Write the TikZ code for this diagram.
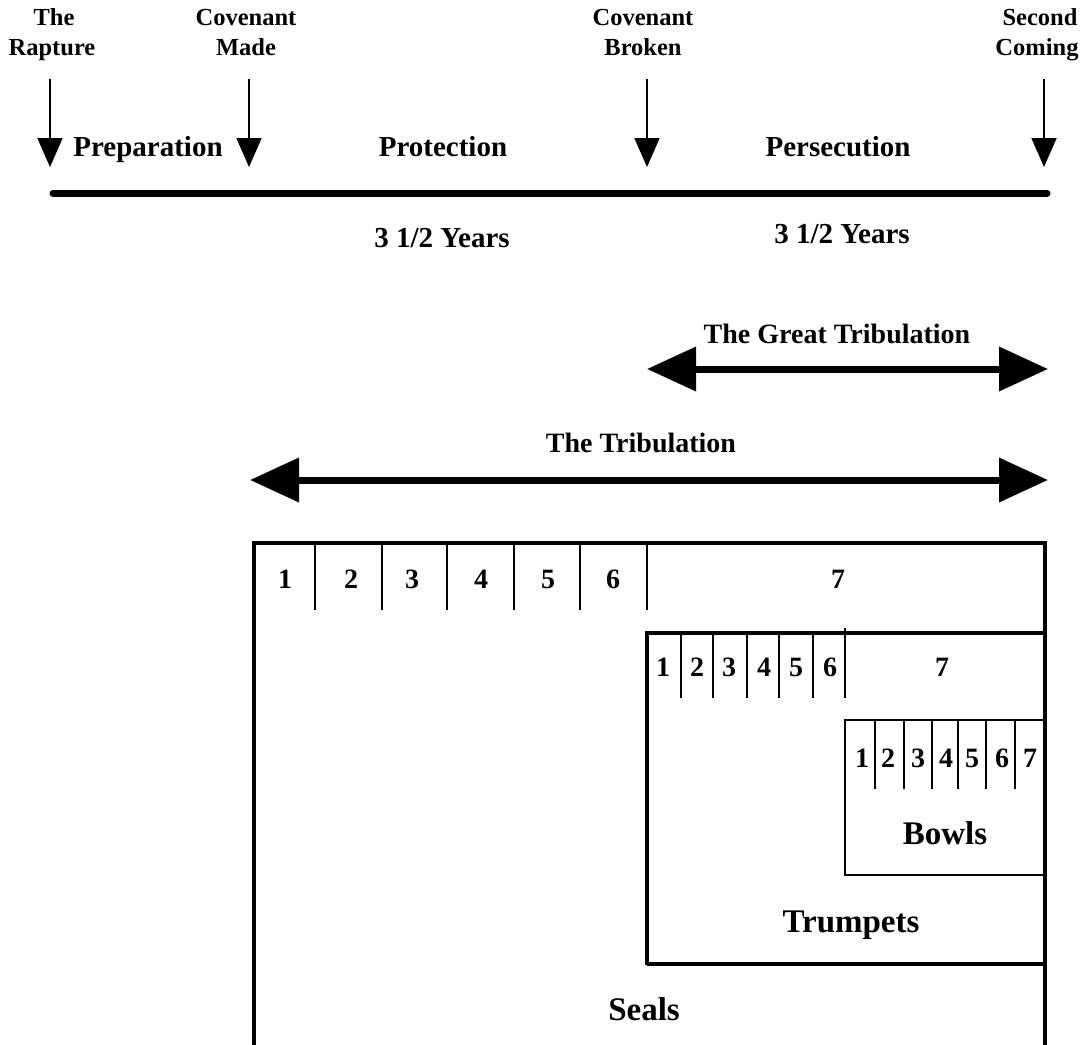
\documentclass[tikz,border=0pt]{standalone}
\usepackage{fontspec}
\setmainfont{Liberation Serif}
\usetikzlibrary{arrows.meta}
\begin{document}
\begin{tikzpicture}[x=1pt,y=-1pt,
  toplbl/.style={font=\fontsize{24.5}{30}\selectfont\bfseries, anchor=base, inner sep=0pt},
  phase/.style={font=\fontsize{29}{34}\selectfont\bfseries, anchor=base, inner sep=0pt},
  span/.style={font=\fontsize{28}{34}\selectfont\bfseries, anchor=base, inner sep=0pt},
  num/.style={font=\fontsize{28}{34}\selectfont\bfseries, anchor=base, inner sep=0pt},
  big/.style={font=\fontsize{33}{38}\selectfont\bfseries, anchor=base, inner sep=0pt},
  downarrow/.style={line width=1.8pt, -{Triangle[length=29pt,width=25pt]}},
  dblarrow/.style={line width=7pt, {Triangle[length=49pt,width=43pt]}-{Triangle[length=49pt,width=43pt]}},
  heavy/.style={line width=4.5pt, line join=miter},
  divider/.style={line width=2pt},
  thinbox/.style={line width=2.5pt, line join=miter}]
\useasboundingbox (0,0) rectangle (1086,1044);

% top labels
\node[toplbl] (rap1) at (54,25) {The};
\node[toplbl] (rap2) at (52,55) {Rapture};
\node[toplbl] (cm1) at (246,25) {Covenant};
\node[toplbl] (cm2) at (246,55) {Made};
\node[toplbl] (cb1) at (643,25) {Covenant};
\node[toplbl] (cb2) at (643,55) {Broken};
\node[toplbl] (sc1) at (1040,25) {Second};
\node[toplbl] (sc2) at (1037,55) {Coming};

% down arrows
\foreach \x/\n in {50/a,249/b,647/c,1044/d}{
  \coordinate (top\n) at (\x,79);
  \coordinate (tip\n) at (\x,167);
  \draw[downarrow] (top\n) -- (tip\n);
}

% phases
\node[phase] (prep) at (148,156) {Preparation};
\node[phase] (prot) at (443,156) {Protection};
\node[phase] (pers) at (838,156) {Persecution};

% timeline
\coordinate (tl1) at (53,193);
\coordinate (tl2) at (1047,193);
\draw[line width=7pt, line cap=round] (tl1) -- (tl2);

\node[phase] (yr1) at (442,247) {3 1/2 Years};
\node[phase] (yr2) at (842,243) {3 1/2 Years};

% great tribulation
\node[span] (gt) at (837,343) {The Great Tribulation};
\coordinate (gtl) at (647,369);
\coordinate (gtr) at (1048,369);
\draw[dblarrow] (gtl) -- (gtr);

% tribulation
\node[span] (tr) at (641,452) {The Tribulation};
\coordinate (trl) at (250,480);
\coordinate (trr) at (1048,480);
\draw[dblarrow] (trl) -- (trr);

% seals box
\foreach \x in {315,382,447,514,580,647}{
  \draw[divider] (\x,543) -- (\x,610);
}
\foreach \x/\t in {285/1,351/2,412/3,481/4,548/5,613/6,838/7}{
  \node[num] (seal\t) at (\x,588) {\t};
}

% trumpets box
\draw[heavy] (647,965) -- (647,633) -- (1045,633);
\draw[heavy] (647,964) -- (1045,964);
\foreach \x in {681,713,747,779,813}{
  \draw[divider] (\x,633) -- (\x,698);
}
\draw[divider] (845,628) -- (845,698);
\foreach \x/\t in {663/1,697/2,729/3,764/4,796/5,830/6,942/7}{
  \node[num] (trp\t) at (\x,676) {\t};
}
\node[big] (trumpets) at (851,932) {Trumpets};

% bowls box
\draw[thinbox] (1045,720) -- (845,720) -- (845,875) -- (1045,875);
\foreach \x in {875,904,932,958,986,1015}{
  \draw[divider] (\x,720) -- (\x,789);
}
\foreach \x/\t in {862/1,888/2,918/3,946/4,972/5,1002/6,1030/7}{
  \node[num] (bowl\t) at (\x,767) {\t};
}
\node[big] (bowls) at (945,844) {Bowls};

% outer seals frame
\draw[heavy] (254,1052) -- (254,543) -- (1045,543) -- (1045,1052);
\node[big] (seals) at (644,1020) {Seals};
\end{tikzpicture}
\end{document}
